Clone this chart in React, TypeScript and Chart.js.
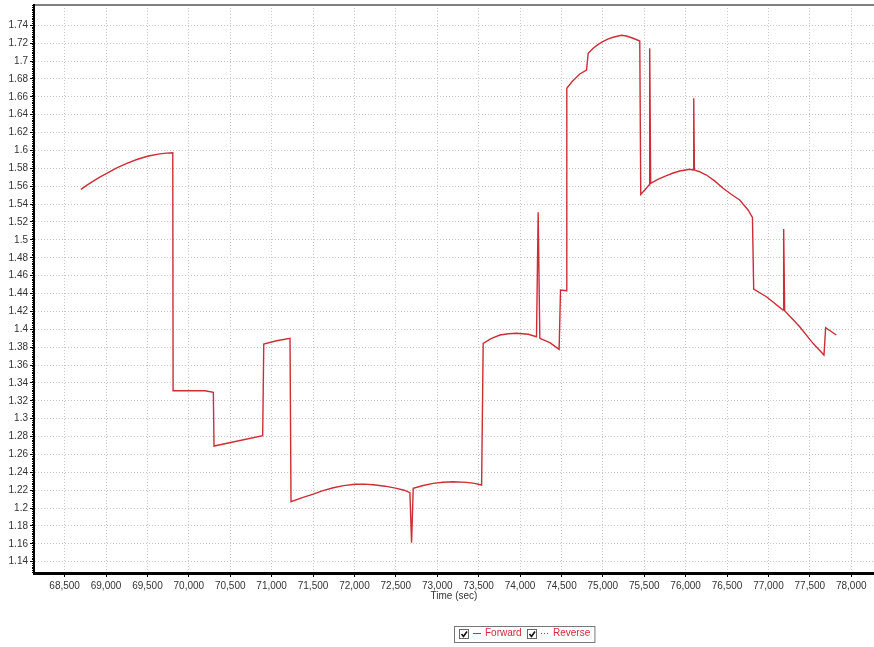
import { useEffect, useRef } from 'react';
import { Chart, registerables } from 'chart.js';

Chart.register(...registerables);

// ---- data ----
const timeSec = [
  68696, 68770, 68850, 68930, 69009, 69130, 69251, 69380, 69512, 69650,
  69730, 69806, 69810, 70196, 70296, 70304, 70892, 70905, 71060, 71222,
  71234, 71370, 71503, 71620, 71745, 71870, 72006, 72120, 72227, 72370,
  72510, 72600, 72670, 72690, 72710, 72830, 72951, 73070, 73193, 73355,
  73450, 73536, 73555, 73650, 73757, 73860, 73958, 74100, 74199, 74219,
  74239, 74360, 74472, 74489, 74561, 74565, 74627, 74722, 74803, 74823,
  74883, 74940, 74999, 75060, 75124, 75225, 75285, 75365, 75446, 75458,
  75506, 75558, 75566, 75578, 75670, 75769, 75850, 75929, 76050, 76090,
  76098, 76106, 76160, 76251, 76350, 76452, 76550, 76653, 76754, 76807,
  76822, 76976, 77176, 77184, 77196, 77378, 77538, 77671, 77691, 77820,
];
const forward = [
  1.5565, 1.5612, 1.566, 1.5705, 1.5744, 1.5805, 1.5856, 1.5902, 1.5938, 1.5962,
  1.597, 1.5975, 1.3313, 1.3313, 1.3295, 1.2694, 1.2809, 1.3835, 1.3872, 1.3899,
  1.2071, 1.2118, 1.2157, 1.2196, 1.2228, 1.2251, 1.2266, 1.2268, 1.2261, 1.2245,
  1.2221, 1.22, 1.2172, 1.1612, 1.2221, 1.2253, 1.2277, 1.2289, 1.2295, 1.2288,
  1.2276, 1.2258, 1.3843, 1.3895, 1.3936, 1.395, 1.3955, 1.3944, 1.3917, 1.5308,
  1.3899, 1.385, 1.3776, 1.4439, 1.4431, 1.6695, 1.6769, 1.6855, 1.69, 1.7087,
  1.7143, 1.7183, 1.7217, 1.7245, 1.7266, 1.7288, 1.728, 1.7255, 1.7224, 1.5509,
  1.5558, 1.5614, 1.7143, 1.5633, 1.568, 1.5718, 1.5748, 1.577, 1.5789, 1.5781,
  1.6583, 1.5781, 1.5765, 1.5725, 1.566, 1.5577, 1.551, 1.5446, 1.5334, 1.5252,
  1.445, 1.4364, 1.4215, 1.5121, 1.4207, 1.4028, 1.3843, 1.3712, 1.4017, 1.3936,
];
const reverseTime: number[] = [];
const reverse: number[] = [];

const seriesLabels = ['Forward', 'Reverse'];
const xTitle = 'Time (sec)';

const xTickValues = [
  68500, 69000, 69500, 70000, 70500, 71000, 71500, 72000, 72500, 73000,
  73500, 74000, 74500, 75000, 75500, 76000, 76500, 77000, 77500, 78000,
];
const yTickValues = [
  1.14, 1.16, 1.18, 1.2, 1.22, 1.24, 1.26, 1.28, 1.3, 1.32, 1.34, 1.36, 1.38, 1.4,
  1.42, 1.44, 1.46, 1.48, 1.5, 1.52, 1.54, 1.56, 1.58, 1.6, 1.62, 1.64, 1.66, 1.68,
  1.7, 1.72, 1.74,
];
const xMin = 68130;
const xMax = 78275;
const yMin = 1.1274;
const yMax = 1.7627;

const FONT = '"Liberation Sans", Arial, Helvetica, sans-serif';
const RED = 'rgb(204, 45, 55)';

const checkLegend = {
  id: 'checkLegend',
  afterDraw(chart: any) {
    const ctx = chart.ctx as CanvasRenderingContext2D;
    const items = chart.data.datasets;
    ctx.save();
    ctx.font = `10px ${FONT}`;
    const widths = items.map((d: any) => ctx.measureText(d.label).width);
    const left = 454.5;
    const top = 626.5;
    const h = 16;
    let total = 4;
    widths.forEach((w: number, i: number) => {
      total += 26 + w + (i < widths.length - 1 ? 5 : 5.5);
    });
    ctx.fillStyle = '#fff';
    ctx.fillRect(left, top, total, h);
    ctx.strokeStyle = '#777';
    ctx.lineWidth = 1;
    ctx.strokeRect(left, top, total, h);
    let x = Math.round(left + 4);
    const cy = 633;
    items.forEach((d: any, i: number) => {
      ctx.setLineDash([]);
      ctx.fillStyle = '#fff';
      ctx.fillRect(x + 0.5, 629.5, 9, 9);
      ctx.strokeStyle = '#666';
      ctx.lineWidth = 1;
      ctx.strokeRect(x + 0.5, 629.5, 9, 9);
      ctx.strokeStyle = '#111';
      ctx.lineWidth = 1.6;
      ctx.beginPath();
      ctx.moveTo(x + 2.5, 634);
      ctx.lineTo(x + 4.5, 636.5);
      ctx.lineTo(x + 8, 631.5);
      ctx.stroke();
      ctx.strokeStyle = d.borderColor;
      ctx.lineWidth = 1;
      ctx.setLineDash(d.borderDash || []);
      ctx.beginPath();
      ctx.moveTo(x + 14, cy + 0.5);
      ctx.lineTo(x + 22, cy + 0.5);
      ctx.stroke();
      ctx.setLineDash([]);
      ctx.fillStyle = d.borderColor;
      ctx.textAlign = 'left';
      ctx.textBaseline = 'middle';
      ctx.fillText(d.label, x + 26, cy);
      x = Math.round(x + 26 + widths[i] + 5);
    });
    ctx.restore();
  },
};

const gridColor = '#c6c6c6';

export default function App() {
  const ref = useRef<HTMLCanvasElement | null>(null);

  useEffect(() => {
    if (!ref.current) return;
    Chart.defaults.font.family = FONT;
    const chart = new Chart(ref.current, {
      type: 'line',
      data: {
        datasets: [
          {
            label: seriesLabels[0],
            data: timeSec.map((t, i) => ({ x: t, y: forward[i] })),
            borderColor: RED,
            backgroundColor: RED,
            borderWidth: 1.4,
            pointRadius: 0,
            tension: 0,
          },
          {
            label: seriesLabels[1],
            data: reverseTime.map((t, i) => ({ x: t, y: reverse[i] })),
            borderColor: RED,
            backgroundColor: RED,
            borderWidth: 1.4,
            borderDash: [1, 2],
            pointRadius: 0,
            tension: 0,
          },
        ],
      },
      options: {
        responsive: false,
        animation: false,
        layout: { padding: { top: 5, left: 0, right: 0, bottom: 0 } },
        plugins: {
          legend: { display: false },
          tooltip: { enabled: false },
        },
        scales: {
          x: {
            type: 'linear',
            position: 'bottom',
            weight: 1,
            min: xMin,
            max: xMax,
            afterBuildTicks: (s: any) => {
              s.ticks = xTickValues.map((v) => ({ value: v }));
            },
            afterFit: (s: any) => {
              s.height = 74;
              s.paddingLeft = 0;
              s.paddingRight = 0;
            },
            ticks: {
              autoSkip: false,
              maxRotation: 0,
              minRotation: 0,
              padding: 3,
              color: '#333',
              font: { family: FONT, size: 10 },
              callback: (v: any) => Number(v).toLocaleString('en-US'),
            },
            grid: {
              color: gridColor,
              lineWidth: 1,
              tickLength: 4,
              tickColor: '#000',
              tickWidth: 1,
            },
            border: { color: '#000', width: 3, dash: [1, 2] },
            title: {
              display: true,
              text: xTitle,
              color: '#333',
              font: { family: FONT, size: 10 },
              padding: { top: 0, bottom: 45 },
            },
          },
          xMinor: {
            type: 'linear',
            position: 'bottom',
            weight: 0,
            min: xMin,
            max: xMax,
            ticks: { display: false, stepSize: 100, includeBounds: false },
            grid: { drawOnChartArea: false, tickLength: 2, tickColor: '#000', tickWidth: 1 },
            border: { display: false },
            afterFit: (s: any) => {
              s.height = 0;
              s.paddingLeft = 0;
              s.paddingRight = 0;
            },
          },
          xTop: {
            type: 'linear',
            position: 'top',
            min: xMin,
            max: xMax,
            ticks: { display: false },
            grid: { display: false },
            border: { color: '#808080', width: 2 },
            afterFit: (s: any) => {
              s.height = 0;
              s.paddingLeft = 0;
              s.paddingRight = 0;
            },
          },
          y: {
            type: 'linear',
            position: 'left',
            weight: 1,
            min: yMin,
            max: yMax,
            afterBuildTicks: (s: any) => {
              s.ticks = yTickValues.map((v) => ({ value: v }));
            },
            afterFit: (s: any) => {
              s.width = 34;
              s.paddingTop = 0;
              s.paddingBottom = 0;
            },
            ticks: {
              autoSkip: false,
              padding: 2,
              color: '#333',
              font: { family: FONT, size: 10 },
              callback: (v: any) => String(Number(Number(v).toFixed(2))),
            },
            grid: {
              color: gridColor,
              lineWidth: 1,
              tickLength: 4,
              tickColor: '#000',
              tickWidth: 1,
            },
            border: { color: '#000', width: 2, dash: [1, 2] },
          },
          yMinor: {
            type: 'linear',
            position: 'left',
            weight: 0,
            min: yMin,
            max: yMax,
            ticks: { display: false, stepSize: 0.002, includeBounds: false },
            grid: { drawOnChartArea: false, tickLength: 2, tickColor: '#000', tickWidth: 1 },
            border: { display: false },
            afterFit: (s: any) => {
              s.width = 0;
              s.paddingTop = 0;
              s.paddingBottom = 0;
            },
          },
        },
      } as any,
      plugins: [checkLegend],
    });
    return () => chart.destroy();
  }, []);

  return (
    <div style={{ position: 'fixed', left: 0, top: 0, width: 874, height: 647, background: '#fff' }}>
      <canvas ref={ref} width={874} height={647} style={{ display: 'block' }} />
    </div>
  );
}
